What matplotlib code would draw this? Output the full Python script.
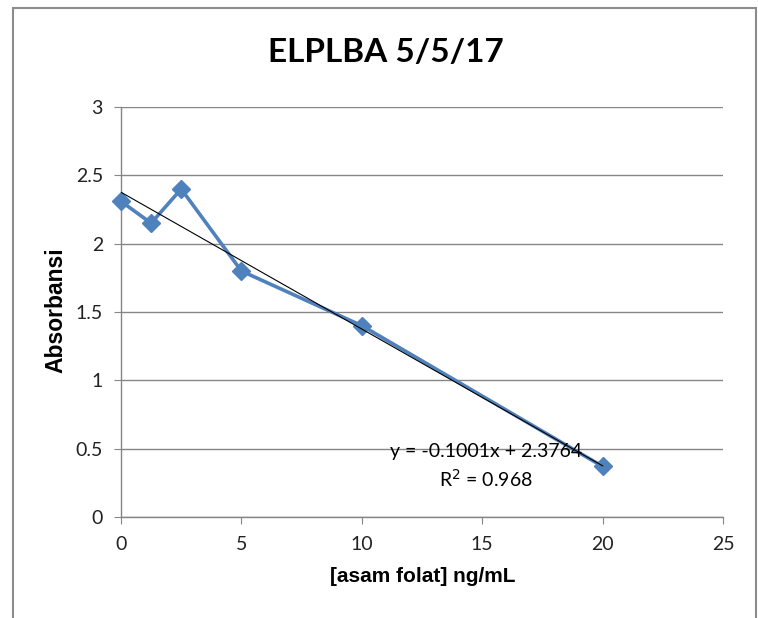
import matplotlib.pyplot as plt
import numpy as np
from matplotlib.patches import Rectangle

# folic acid concentration (ng/mL) vs absorbance
konsentrasi = [0, 1.25, 2.5, 5, 10, 20]
absorbansi = [2.31, 2.15, 2.40, 1.80, 1.40, 0.37]
slope = -0.1001
intercept = 2.3764
r2 = 0.968

blue = '#4F81BD'
grid_gray = '#868686'

fig = plt.figure(figsize=(7.58, 6.18), dpi=100)
ax = fig.add_axes([121 / 758, 1 - 517 / 618, (723 - 121) / 758, (517 - 107) / 618])

# outer chart border
fig.patches.append(Rectangle((12.5 / 758, -0.05), (756 - 12.5) / 758, 1.05 - 7.5 / 618,
                             transform=fig.transFigure, fill=False,
                             edgecolor='#8c8c8c', linewidth=1.5))

ax.plot(konsentrasi, absorbansi, color=blue, linewidth=2.6, marker='D',
        markersize=9, clip_on=False, zorder=3)

# linear trendline
xs = np.array([min(konsentrasi), max(konsentrasi)])
ax.plot(xs, slope * xs + intercept, color='black', linewidth=0.8, zorder=4)

ax.set_xlim(0, 25)
ax.set_ylim(0, 3)
ax.set_xticks(range(0, 26, 5))
ax.set_yticks([0, 0.5, 1, 1.5, 2, 2.5, 3])
ax.set_yticklabels(['0', '0.5', '1', '1.5', '2', '2.5', '3'])
ax.yaxis.grid(True, color=grid_gray, linewidth=1)
ax.set_axisbelow(True)
for side in ['top', 'right']:
    ax.spines[side].set_visible(False)
for side in ['left', 'bottom']:
    ax.spines[side].set_color(grid_gray)
    ax.spines[side].set_linewidth(1)
ax.tick_params(axis='both', direction='out', length=5, color=grid_gray,
               labelsize=14)
ax.tick_params(axis='y', pad=8)
ax.tick_params(axis='x', pad=9)
for lbl in ax.get_xticklabels() + ax.get_yticklabels():
    lbl.set_family('Lato')
    lbl.set_color('#222222')

fig.text(386 / 758, 1 - 53 / 618, 'ELPLBA 5/5/17', ha='center', va='center',
         fontsize=24, fontweight='bold', family='Lato')
fig.text(423 / 758, 1 - 576 / 618, '[asam folat] ng/mL', ha='center', va='center',
         fontsize=15, fontweight='bold', family='Liberation Sans')
fig.text(56 / 758, 1 - 310 / 618, 'Absorbansi', ha='center', va='center',
         rotation=90, fontsize=16.5, fontweight='bold', family='Liberation Sans')

fig.text(486 / 758, 1 - 452 / 618, f'y = {slope}x + {intercept}',
         ha='center', va='center', fontsize=14, family='Lato')
fig.text(486 / 758, 1 - 479 / 618, f'R$^2$ = {r2}',
         ha='center', va='center', fontsize=14, family='Lato')

fig.savefig('out.png', dpi=100)
